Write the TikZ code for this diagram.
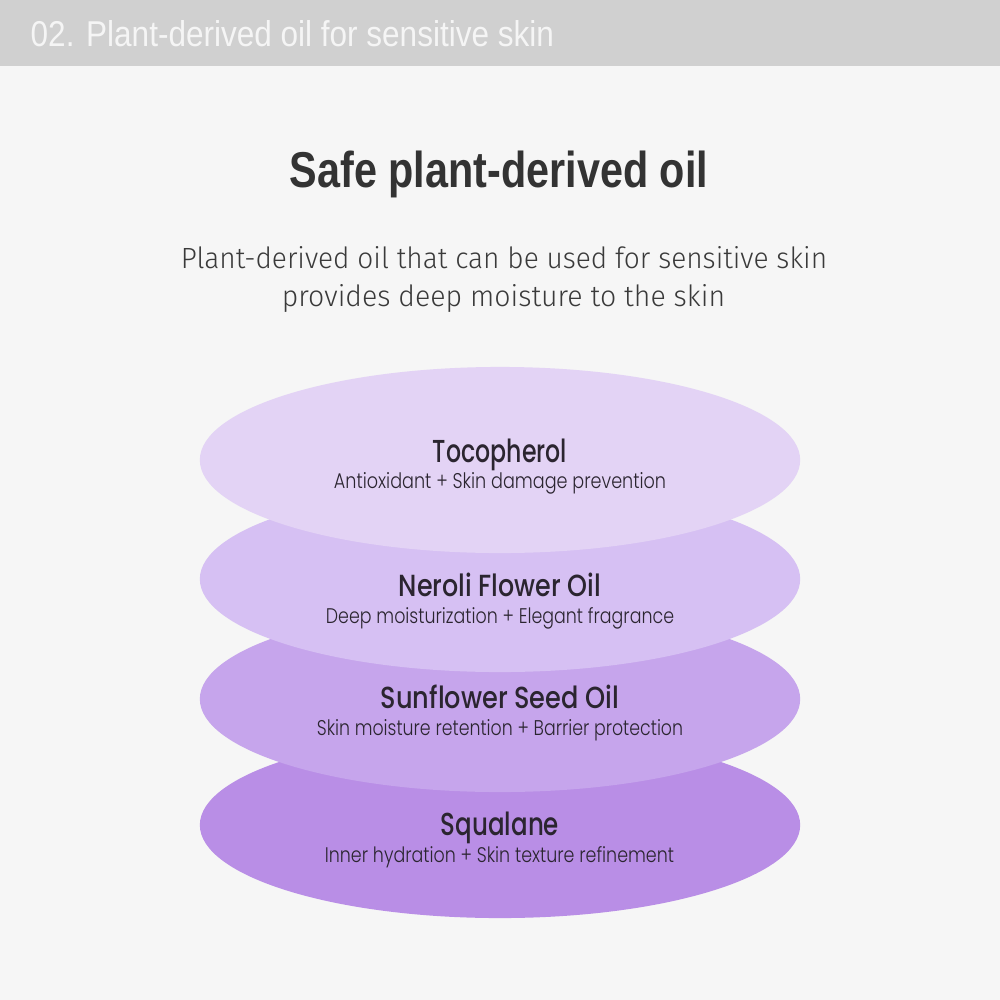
\documentclass[tikz,border=0pt]{standalone}
\usepackage{fontspec}
\setmainfont{Liberation Sans}
\newfontfamily\lightfont{Fira Sans Light}
\newfontfamily\popl{Poppins Light}
\newfontfamily\popm{Poppins Medium}
\usetikzlibrary{shapes.geometric}
\definecolor{bg}{HTML}{F6F6F6}
\definecolor{hdr}{HTML}{D0D0D0}
\definecolor{hdrtext}{HTML}{F5F5F5}
\definecolor{titleink}{HTML}{333333}
\definecolor{subink}{HTML}{3A3A3A}
\definecolor{ink}{HTML}{2B2530}
\definecolor{eA}{HTML}{E3D3F5}
\definecolor{eB}{HTML}{D6C0F3}
\definecolor{eC}{HTML}{C6A5EC}
\definecolor{eD}{HTML}{B98EE6}
\tikzset{
  oval/.style={ellipse, minimum width=6cm, minimum height=1.86cm, inner sep=0pt, draw=none},
  txt/.style={inner sep=0pt, anchor=base},
}
\begin{document}
\begin{tikzpicture}[x=0.01cm,y=-0.01cm]
\useasboundingbox (0,0) rectangle (1000,1000);
\fill[bg] (0,0) rectangle (1000,1000);
\fill[hdr] (0,0) rectangle (1000,66);
\node[txt, anchor=base west, text=hdrtext] (hdr) at (30,47) {\resizebox{5.23cm}{0.26cm}{02. Plant-derived oil for sensitive skin}};
\node[txt, text=titleink] (title) at (499,187) {\resizebox{4.18cm}{0.365cm}{\bfseries Safe plant-derived oil}};
\node[txt, text=subink] (sub1) at (504,268) {\resizebox{6.46cm}{0.22cm}{\lightfont Plant-derived oil that can be used for sensitive skin}};
\node[txt, text=subink] (sub2) at (503.5,306) {\resizebox{4.43cm}{0.22cm}{\lightfont provides deep moisture to the skin}};

\node[oval, fill=eD] (e4) at (500,825) {};
\node[oval, fill=eC] (e3) at (500,699) {};
\node[oval, fill=eB] (e2) at (500,579) {};
\node[oval, fill=eA] (e1) at (500,460) {};

\node[txt, text=ink] (n1) at (500,462) {\resizebox{1.34cm}{0.235cm}{\popm Tocopherol}};
\node[txt, text=ink] (d1) at (500,488) {\resizebox{3.32cm}{0.16cm}{\popl Antioxidant + Skin damage prevention}};
\node[txt, text=ink] (n2) at (500,596) {\resizebox{2.02cm}{0.235cm}{\popm Neroli Flower Oil}};
\node[txt, text=ink] (d2) at (500,623) {\resizebox{3.48cm}{0.16cm}{\popl Deep moisturization + Elegant fragrance}};
\node[txt, text=ink] (n3) at (500,708) {\resizebox{2.38cm}{0.235cm}{\popm Sunflower Seed Oil}};
\node[txt, text=ink] (d3) at (500,735) {\resizebox{3.66cm}{0.16cm}{\popl Skin moisture retention + Barrier protection}};
\node[txt, text=ink] (n4) at (500,835) {\resizebox{1.18cm}{0.235cm}{\popm Squalane}};
\node[txt, text=ink] (d4) at (499.5,862) {\resizebox{3.49cm}{0.16cm}{\popl Inner hydration + Skin texture refinement}};
\end{tikzpicture}
\end{document}
